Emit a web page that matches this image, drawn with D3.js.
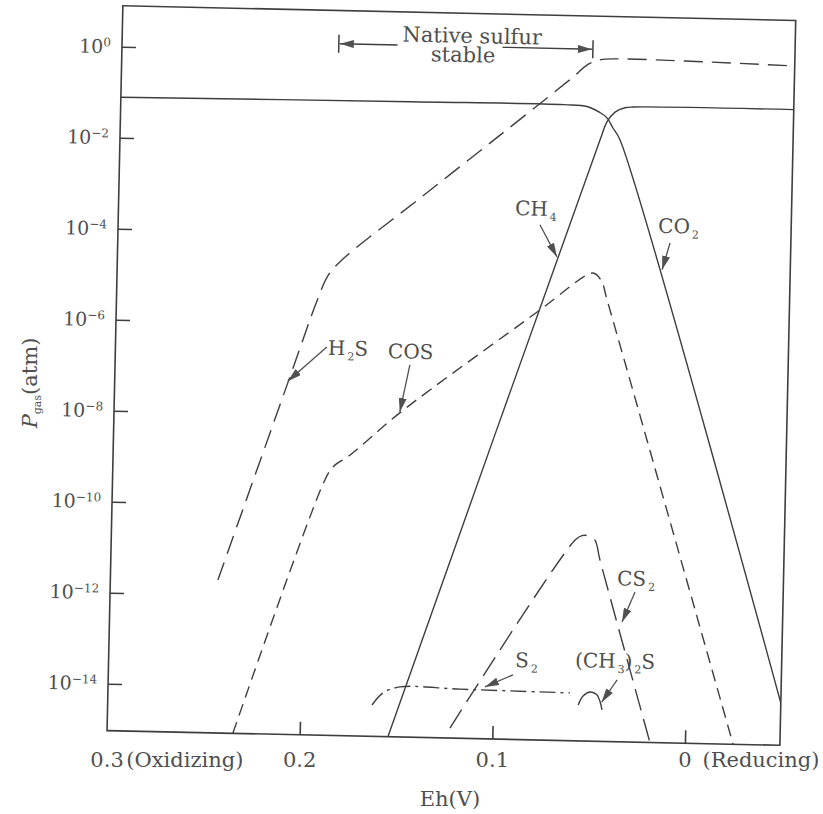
<!DOCTYPE html>
<html><head><meta charset="utf-8">
<script src="https://cdn.jsdelivr.net/npm/d3@7/dist/d3.min.js"></script>
<style>
body{margin:0;background:#fff}
svg{display:block}
text{font-family:"DejaVu Serif","Liberation Serif",serif;fill:#4f4f4f}
</style>
</head><body>
<svg id="chart" width="823" height="814"></svg>
<script>
// ---------------- data (Eh in V, log10 of P in atm) ----------------
const ehDomain = [0.3, -0.0493];
const logPDomain = [-15.03, 0.9];
const xTickValues = [0.3, 0.2, 0.1, 0];
const xTickLabels = ["0.3", "0.2", "0.1", "0"];
const yTickExponents = [0, -2, -4, -6, -8, -10, -12, -14];

const CO2 = [[0.3,-1.11],[0.15,-1.07],[0.07,-1.06],[0.058,-1.09],[0.0511,-1.22],[0.0475,-1.33],[0.0443,-1.55],[0.0405,-1.81],[-0.0493,-14.1]];
const CH4 = [[0.1542,-15.03],[0.0509,-1.82],[0.0475,-1.42],[0.0434,-1.2],[0.0383,-1.1],[0.034,-1.08],[-0.0493,-1.06]];
const H2S = [[0.2442,-11.67],[0.2091,-7.17],[0.196,-5.5],[0.1905,-4.93],[0.184,-4.6],[0.1438,-3.19],[0.1028,-1.76],[0.0656,-0.45],[0.0585,-0.18],[0.0518,-0.06],[0.043,-0.03],[-0.0493,-0.1]];
const COS = [[0.2347,-15.03],[0.1898,-9.42],[0.1855,-9.12],[0.177,-8.86],[0.1517,-7.91],[0.0801,-5.58],[0.0565,-4.8],[0.0525,-4.75],[0.0485,-4.92],[0.0454,-5.33],[-0.025,-15.03]];
const CS2 = [[0.1221,-14.81],[0.0593,-10.62],[0.0558,-10.52],[0.0526,-10.52],[0.049,-10.61],[0.0462,-11.04],[0.0181,-15.04]];
const S2 = [[0.1628,-14.34],[0.1573,-14.07],[0.1485,-13.93],[0.1173,-13.95],[0.0602,-13.98]];
const DMS = [[0.0558,-14.24],[0.0534,-14.04],[0.0498,-13.95],[0.0462,-14.01],[0.0445,-14.16],[0.0434,-14.34]];

// native sulfur stability range (Eh)
const nativeSulfurRange = [0.1875, 0.0556];

// species labels: text parts, anchor (Eh, logP), arrow from/to (Eh, logP)
const speciesLabels = [
  {parts:[["H"],["2","sub"],["S"]], at:[0.1897,-6.67], from:[0.1903,-6.50], to:[0.2102,-7.27]},
  {parts:[["COS"]], at:[0.1585,-6.71], from:[0.147,-6.85], to:[0.1517,-7.89]},
  {parts:[["CH"],["4","sub"]], at:[0.0942,-3.51], from:[0.0811,-3.71], to:[0.0719,-4.41]},
  {parts:[["CO"],["2","sub"]], at:[0.0197,-3.83], from:[0.0134,-4.05], to:[0.0172,-4.64]},
  {parts:[["CS"],["2","sub"]], at:[0.037,-11.59], from:[0.0276,-11.73], to:[0.034,-12.40]},
  {parts:[["S"],["2","sub"]], at:[0.089,-13.44], from:[0.09,-13.61], to:[0.1044,-13.89]},
  {parts:[["(CH"],["3","sub"],[")"],["2","sub"],["S"]], at:[0.0579,-13.41], from:[0.0359,-13.67], to:[0.0437,-14.17]}
];

// ---------------- layout ----------------
const W = 823, H = 814;
const L = 115, R = 788, T = 13, B = 738;
const ROT = 1.25, CX = 450, CY = 370;
const INK = "#3e3e3e";

const svg = d3.select("#chart");
svg.append("rect").attr("width", W).attr("height", H).attr("fill", "#fff");

const x = d3.scaleLinear().domain(ehDomain).range([L, R]);
const y = d3.scaleLog().domain(logPDomain.map(v => Math.pow(10, v))).range([B, T]);
const px = d => x(d[0]);
const py = d => y(Math.pow(10, d[1]));

function rot(u, v) {
  const a = ROT * Math.PI / 180;
  return [CX + (u - CX) * Math.cos(a) - (v - CY) * Math.sin(a),
          CY + (u - CX) * Math.sin(a) + (v - CY) * Math.cos(a)];
}

const defs = svg.append("defs");
defs.append("clipPath").attr("id", "plotClip")
  .append("rect").attr("x", L).attr("y", T).attr("width", R - L).attr("height", B - T);
defs.append("marker").attr("id", "ah")
  .attr("viewBox", "0 0 14 8").attr("refX", 14).attr("refY", 4)
  .attr("markerWidth", 14).attr("markerHeight", 8)
  .attr("markerUnits", "userSpaceOnUse").attr("orient", "auto-start-reverse")
  .append("path").attr("d", "M0,0 L14,4 L0,8 Z").attr("fill", "#505050");

const g = svg.append("g").attr("transform", `rotate(${ROT},${CX},${CY})`);

// frame
g.append("rect").attr("x", L).attr("y", T).attr("width", R - L).attr("height", B - T)
  .attr("fill", "none").attr("stroke", INK).attr("stroke-width", 1.6);

// y axis (ticks inward)
const yAxis = d3.axisLeft(y)
  .tickValues(yTickExponents.map(e => Math.pow(10, e)))
  .tickSize(-14).tickPadding(11)
  .tickFormat(() => "10");
const ya = g.append("g").attr("transform", `translate(${L},0)`).call(yAxis);
ya.select(".domain").remove();
ya.selectAll(".tick line").attr("stroke", INK).attr("stroke-width", 1.6);
ya.selectAll(".tick text")
  .style("font-family", '"DejaVu Serif",serif').style("font-size", "19px").attr("fill", "#4f4f4f")
  .each(function(d, i) {
    const e = yTickExponents[i];
    d3.select(this).append("tspan")
      .attr("dy", "-0.55em").style("font-size", "12px")
      .text(e === 0 ? "0" : "\u2212" + Math.abs(e));
  });

// x axis (ticks inward, labels drawn unrotated below)
const xAxis = d3.axisBottom(x).tickValues(xTickValues.filter(v => v < 0.3))
  .tickSize(-13).tickFormat("");
const xa = g.append("g").attr("transform", `translate(0,${B})`).call(xAxis);
xa.select(".domain").remove();
xa.selectAll(".tick line").attr("stroke", INK).attr("stroke-width", 1.6);

// curves
const line = d3.line().x(px).y(py).curve(d3.curveCatmullRom.alpha(0.5));
const curves = [
  {data: CO2, dash: null},
  {data: CH4, dash: null},
  {data: H2S, dash: "19,9"},
  {data: COS, dash: "12,7"},
  {data: CS2, dash: "22,9"},
  {data: S2, dash: "16,5,3,5"},
  {data: DMS, dash: null}
];
const cg = g.append("g").attr("clip-path", "url(#plotClip)");
curves.forEach(c => {
  cg.append("path").attr("d", line(c.data))
    .attr("fill", "none").attr("stroke", INK).attr("stroke-width", 1.4)
    .attr("stroke-dasharray", c.dash);
});

// native sulfur range
const nsY = 0.17;
[nativeSulfurRange[0], nativeSulfurRange[1]].forEach(v => {
  g.append("line").attr("x1", x(v)).attr("x2", x(v))
    .attr("y1", py([v, nsY]) - 9).attr("y2", py([v, nsY]) + 9)
    .attr("stroke", INK).attr("stroke-width", 1.5);
});
g.append("line")
  .attr("x1", x(nativeSulfurRange[0]) + 1).attr("x2", x(0.157))
  .attr("y1", py([0, nsY])).attr("y2", py([0, nsY]))
  .attr("stroke", INK).attr("stroke-width", 1.3).attr("marker-start", "url(#ah)");
g.append("line")
  .attr("x1", x(0.1025)).attr("x2", x(nativeSulfurRange[1]) - 1)
  .attr("y1", py([0, nsY])).attr("y2", py([0, nsY]))
  .attr("stroke", INK).attr("stroke-width", 1.3).attr("marker-end", "url(#ah)");
g.append("text").attr("x", x(0.1184)).attr("y", py([0, 0.25]))
  .attr("text-anchor", "middle").style("font-size", "21px").text("Native sulfur");
g.append("text").attr("x", x(0.1229)).attr("y", py([0, -0.17]))
  .attr("text-anchor", "middle").style("font-size", "21px").text("stable");

// species labels
speciesLabels.forEach(s => {
  const t = g.append("text").attr("x", px(s.at)).attr("y", py(s.at)).style("font-size", "20px");
  let shift = 0;
  s.parts.forEach(p => {
    const sp = t.append("tspan").text(p[0]);
    if (p[1] === "sub") {
      sp.style("font-size", "11px").attr("dy", 5 - shift).attr("dx", 2);
      shift = 5;
    } else if (shift) {
      sp.attr("dy", -shift); shift = 0;
    }
  });
  g.append("line").attr("x1", px(s.from)).attr("y1", py(s.from))
    .attr("x2", px(s.to)).attr("y2", py(s.to))
    .attr("stroke", "#505050").attr("stroke-width", 1.3).attr("marker-end", "url(#ah)");
});

// x tick labels (unrotated text placed at rotated tick positions)
const xLabelBase = 767;
xTickValues.forEach((v, i) => {
  const p = rot(x(v), B);
  svg.append("text").attr("x", p[0]).attr("y", xLabelBase)
    .attr("text-anchor", "middle").style("font-size", "21px").text(xTickLabels[i]);
});
svg.append("text").attr("x", rot(x(0.29), B)[0]).attr("y", xLabelBase)
  .style("font-size", "21px").text("(Oxidizing)");
svg.append("text").attr("x", rot(x(-0.0091), B)[0]).attr("y", xLabelBase)
  .style("font-size", "21px").text("(Reducing)");

// axis titles
svg.append("text").attr("x", rot(x(0.122), B)[0]).attr("y", 806)
  .attr("text-anchor", "middle").style("font-size", "21px").text("Eh(V)");
const yl = svg.append("text").attr("transform", "translate(37,383) rotate(-90)")
  .attr("text-anchor", "middle").style("font-size", "21px");
yl.append("tspan").style("font-style", "italic").text("P");
yl.append("tspan").style("font-size", "11px").attr("dy", 4).text("gas");
yl.append("tspan").attr("dy", -4).text("(atm)");
</script>
</body></html>
